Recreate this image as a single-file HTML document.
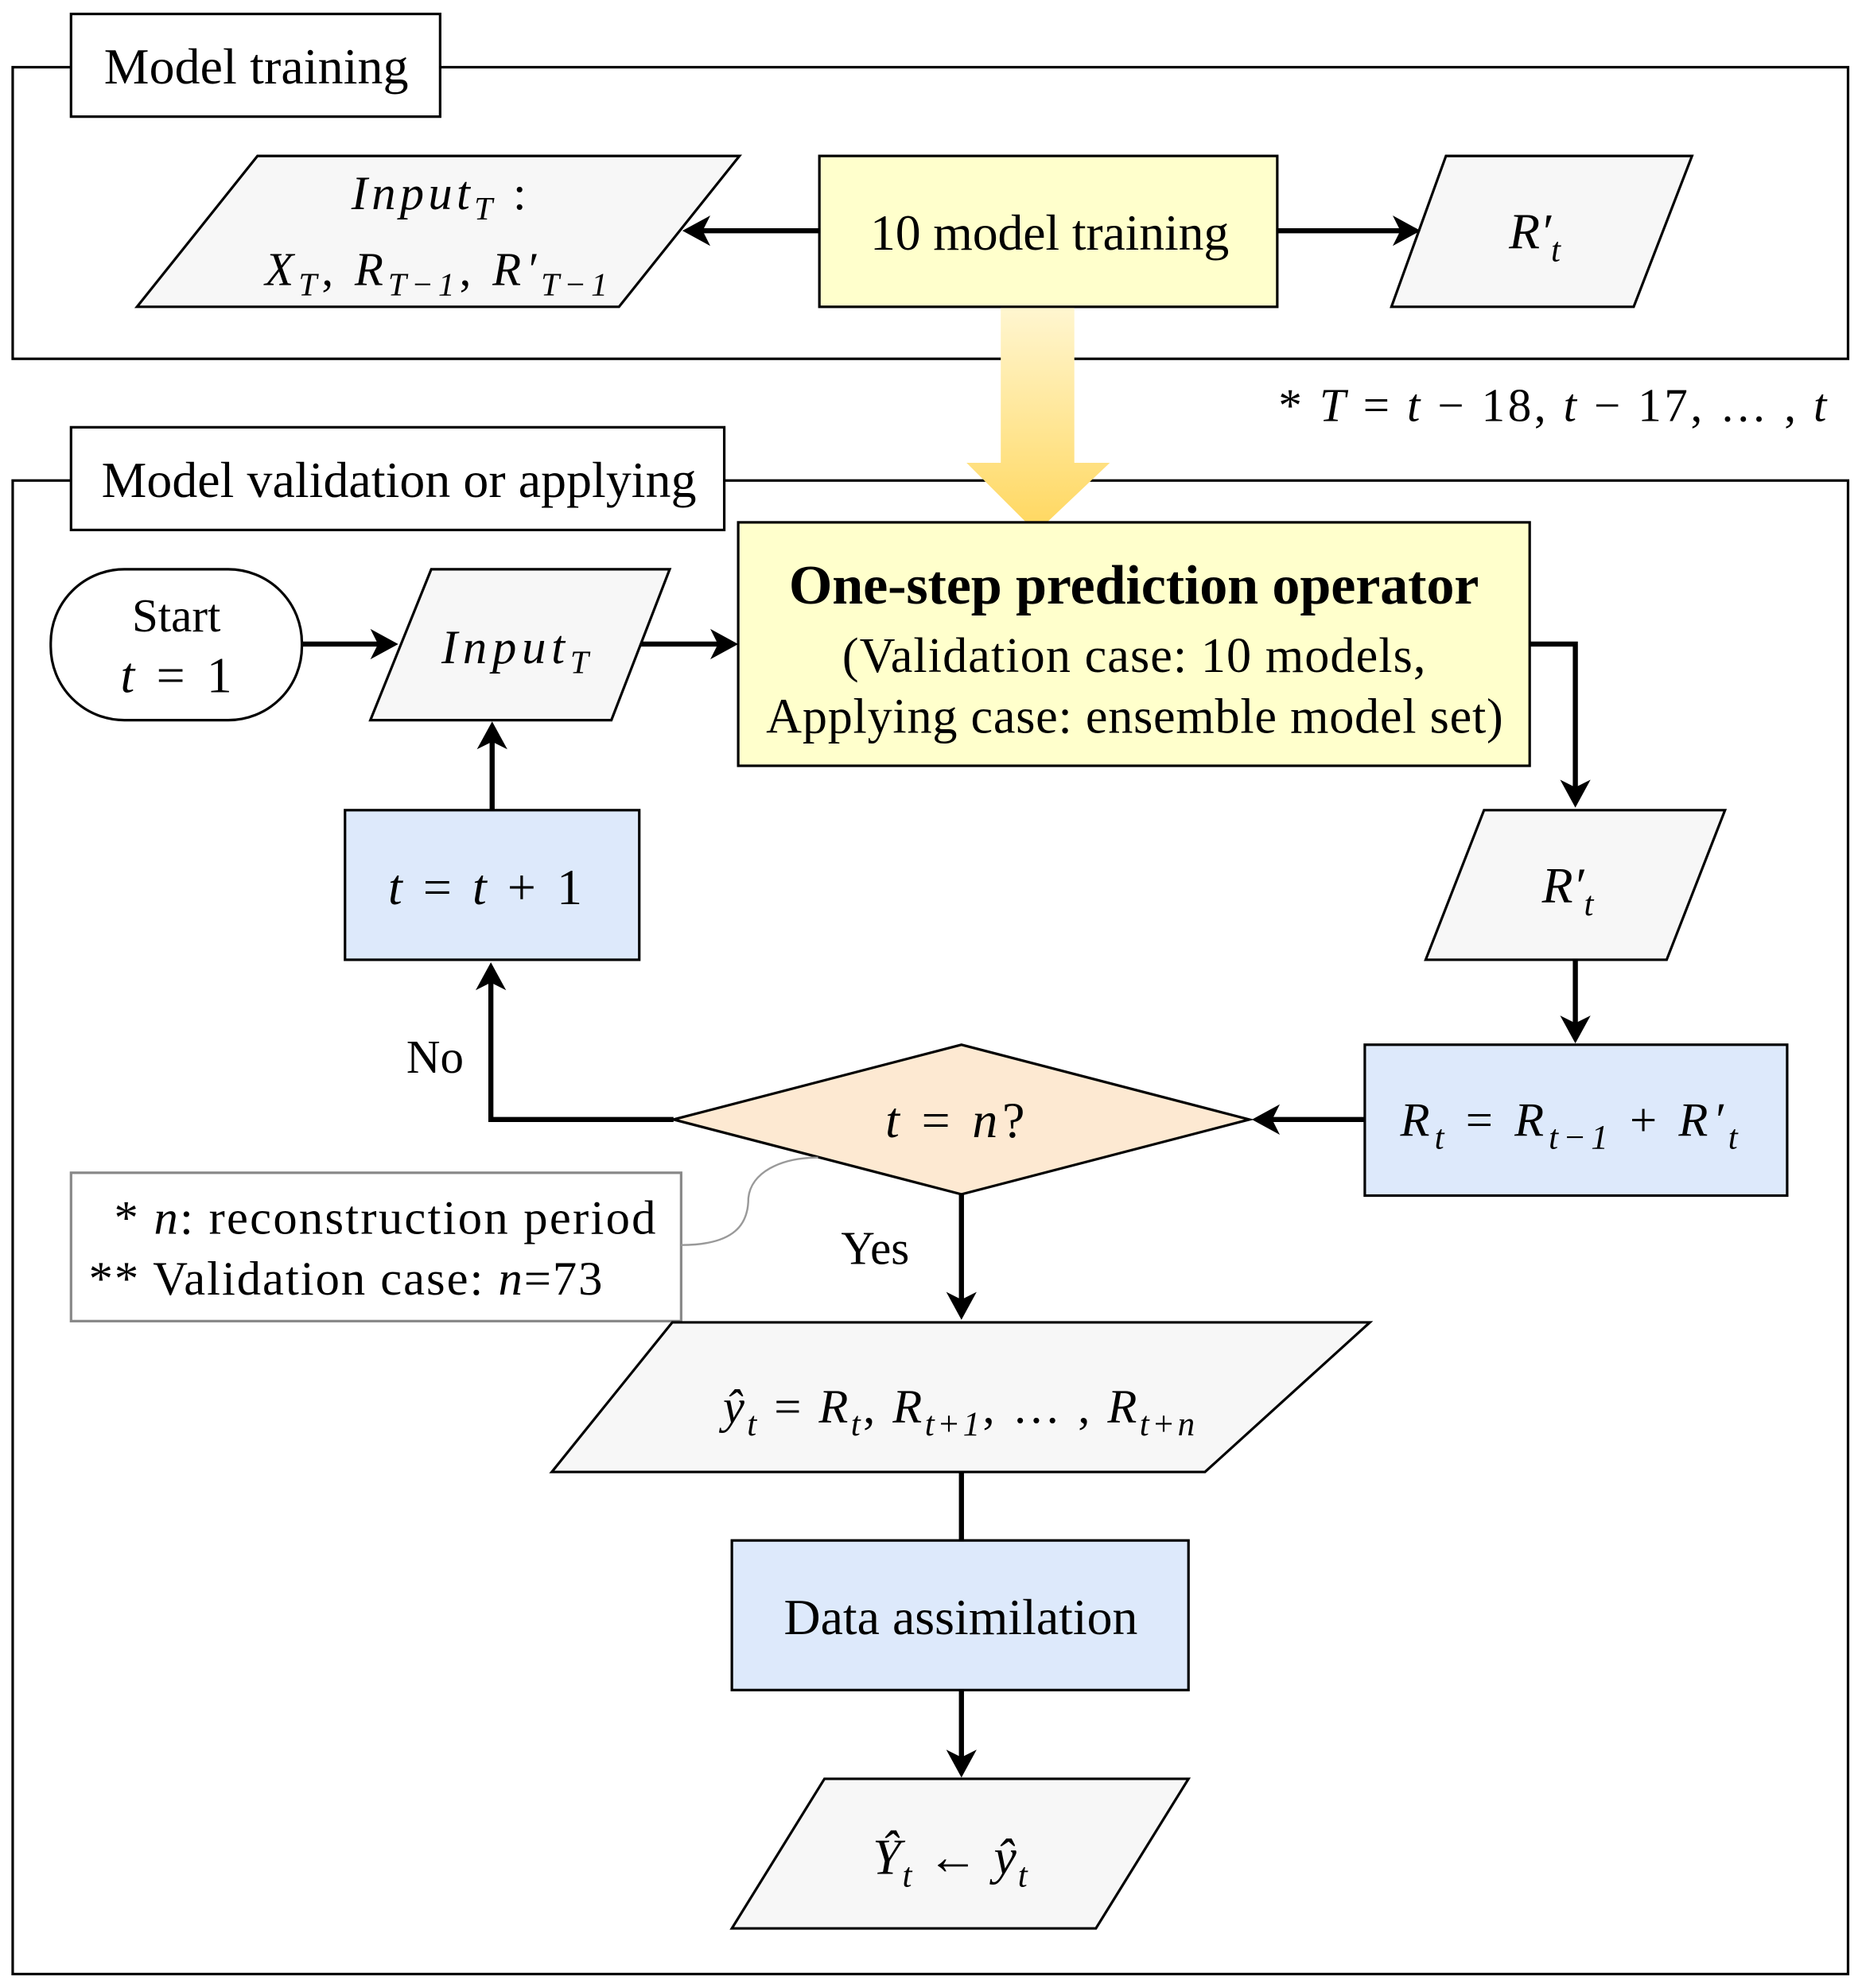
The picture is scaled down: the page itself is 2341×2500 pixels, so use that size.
<!DOCTYPE html>
<html><head><meta charset="utf-8"><style>
html,body{margin:0;padding:0;background:#fff}
svg{display:block}
text{font-family:"Liberation Serif",serif;fill:#000}
.i{font-style:italic}
</style></head><body>
<svg width="2341" height="2500" viewBox="0 0 1468 1568" preserveAspectRatio="none" xmlns="http://www.w3.org/2000/svg">
<defs>
<linearGradient id="g" x1="0" y1="0" x2="0" y2="1">
<stop offset="0" stop-color="#fff6d0"/><stop offset="1" stop-color="#ffd75e"/>
</linearGradient>
</defs>
<g fill="none" stroke="#000" stroke-width="2">
<rect x="10" y="53" width="1447" height="230" fill="#fff"/>
<rect x="10" y="379" width="1447" height="1178" fill="#fff"/>
</g>
<rect x="56" y="11" width="291" height="81" fill="#fff" stroke="#000" stroke-width="2"/>
<text x="82" y="66" font-size="40" textLength="240">Model training</text>
<rect x="56" y="337" width="515" height="81" fill="#fff" stroke="#000" stroke-width="2"/>
<text x="80" y="392" font-size="40" textLength="469">Model validation or applying</text>

<!-- top row -->
<polygon points="108,242 203,123 583,123 488,242" fill="#f7f7f7" stroke="#000" stroke-width="2"/>
<text x="277" y="165" font-size="38" textLength="138"><tspan class="i">Input</tspan><tspan class="i" font-size="26" dy="8">T</tspan><tspan dy="-8"> :</tspan></text>
<text x="209" y="225" font-size="37" textLength="270"><tspan class="i">X</tspan><tspan class="i" font-size="26" dy="8">T</tspan><tspan dy="-8">,  </tspan><tspan class="i">R</tspan><tspan class="i" font-size="26" dy="8">T−1</tspan><tspan dy="-8">,  </tspan><tspan class="i">R′</tspan><tspan class="i" font-size="26" dy="8">T−1</tspan></text>
<rect x="646" y="123" width="361" height="119" fill="#ffffcc" stroke="#000" stroke-width="2"/>
<text x="686" y="197" font-size="40" textLength="283">10 model training</text>
<polygon points="1097,242 1140,123 1334,123 1288,242" fill="#f7f7f7" stroke="#000" stroke-width="2"/>
<text x="1210" y="196" font-size="40" text-anchor="middle"><tspan class="i">R′</tspan><tspan class="i" font-size="27" dy="10">t</tspan></text>

<g stroke="#000" stroke-width="4" fill="none">
<line x1="646" y1="182" x2="550" y2="182"/>
<line x1="1007" y1="182" x2="1108" y2="182"/>
</g>
<g fill="#000">
<polygon points="538,182 560,170 554,182 560,194"/>
<polygon points="1120,182 1098,170 1104,182 1098,194"/>
</g>

<!-- big arrow -->
<polygon points="789,243 847,243 847,365 875,365 817,420 762,365 789,365" fill="url(#g)"/>
<text x="1008" y="332" font-size="37" textLength="432"><tspan>* </tspan><tspan class="i">T</tspan> = <tspan class="i">t</tspan> − 18, <tspan class="i">t</tspan> − 17, … , <tspan class="i">t</tspan></text>

<!-- start -->
<rect x="40" y="449" width="198" height="119" rx="58" ry="58" fill="#fff" stroke="#000" stroke-width="2"/>
<text x="139" y="498" font-size="37" text-anchor="middle">Start</text>
<text x="95" y="546" font-size="40" textLength="88"><tspan class="i">t</tspan> = 1</text>

<polygon points="292,568 340,449 528,449 482,568" fill="#f7f7f7" stroke="#000" stroke-width="2"/>
<text x="348" y="523" font-size="38" textLength="116"><tspan class="i">Input</tspan><tspan class="i" font-size="26" dy="8">T</tspan></text>

<rect x="582" y="412" width="624" height="192" fill="#ffffcc" stroke="#000" stroke-width="2"/>
<text x="622" y="476" font-size="44" font-weight="bold" textLength="544">One-step prediction operator</text>
<text x="664" y="530" font-size="39" textLength="460">(Validation case: 10 models,</text>
<text x="604" y="578" font-size="39" textLength="581">Applying case: ensemble model set)</text>

<polygon points="1124,757 1170,639 1360,639 1314,757" fill="#f7f7f7" stroke="#000" stroke-width="2"/>
<text x="1236" y="712" font-size="40" text-anchor="middle"><tspan class="i">R′</tspan><tspan class="i" font-size="27" dy="10">t</tspan></text>

<rect x="1076" y="824" width="333" height="119" fill="#dde9fb" stroke="#000" stroke-width="2"/>
<text x="1104" y="896" font-size="38" textLength="266"><tspan class="i">R</tspan><tspan class="i" font-size="27" dy="10">t</tspan><tspan dy="-10"> = </tspan><tspan class="i">R</tspan><tspan class="i" font-size="27" dy="10">t−1</tspan><tspan dy="-10"> + </tspan><tspan class="i">R′</tspan><tspan class="i" font-size="27" dy="10">t</tspan></text>

<polygon points="531,883 758,824 985,883 758,942" fill="#fde9d2" stroke="#000" stroke-width="2"/>
<text x="698" y="897" font-size="40" textLength="110"><tspan class="i">t</tspan> = <tspan class="i">n</tspan>?</text>

<rect x="272" y="639" width="232" height="118" fill="#dde9fb" stroke="#000" stroke-width="2"/>
<text x="306" y="713" font-size="40" textLength="153"><tspan class="i">t</tspan> = <tspan class="i">t</tspan> + 1</text>
<text x="343" y="846" font-size="37" text-anchor="middle">No</text>
<text x="690" y="997" font-size="37" text-anchor="middle">Yes</text>

<rect x="56" y="925" width="481" height="117" fill="#fff" stroke="#888" stroke-width="2"/>
<text x="90" y="973" font-size="38" textLength="427">* <tspan class="i">n</tspan>:  reconstruction period</text>
<text x="70" y="1021" font-size="38" textLength="405">** Validation case: <tspan class="i">n</tspan>=73</text>
<path d="M537,982 C580,982 590,965 590,945 C592,925 615,913 645,913" fill="none" stroke="#999" stroke-width="1.5"/>

<polygon points="435,1161 530,1043 1080,1043 950,1161" fill="#f7f7f7" stroke="#000" stroke-width="2"/>
<text x="570" y="1122" font-size="38" textLength="372"><tspan class="i">ŷ</tspan><tspan class="i" font-size="27" dy="10">t</tspan><tspan dy="-10"> = </tspan><tspan class="i">R</tspan><tspan class="i" font-size="27" dy="10">t</tspan><tspan dy="-10">, </tspan><tspan class="i">R</tspan><tspan class="i" font-size="27" dy="10">t+1</tspan><tspan dy="-10">, … , </tspan><tspan class="i">R</tspan><tspan class="i" font-size="27" dy="10">t+n</tspan></text>

<rect x="577" y="1215" width="360" height="118" fill="#dde9fb" stroke="#000" stroke-width="2"/>
<text x="618" y="1289" font-size="40" textLength="279">Data assimilation</text>

<polygon points="577,1521 650,1403 937,1403 864,1521" fill="#f7f7f7" stroke="#000" stroke-width="2"/>
<text x="688" y="1478" font-size="40" textLength="122"><tspan class="i">Ŷ</tspan><tspan class="i" font-size="27" dy="10">t</tspan><tspan dy="-10"> ← </tspan><tspan class="i">ŷ</tspan><tspan class="i" font-size="27" dy="10">t</tspan></text>

<!-- connectors -->
<g stroke="#000" stroke-width="4" fill="none">
<line x1="238" y1="508" x2="302" y2="508"/>
<line x1="505" y1="508" x2="570" y2="508"/>
<polyline points="1206,508 1242,508 1242,624"/>
<line x1="1242" y1="757" x2="1242" y2="810"/>
<line x1="1076" y1="883" x2="1000" y2="883"/>
<polyline points="531,883 387,883 387,772"/>
<line x1="388" y1="639" x2="388" y2="582"/>
<line x1="758" y1="942" x2="758" y2="1028"/>
<line x1="758" y1="1161" x2="758" y2="1215"/>
<line x1="758" y1="1333" x2="758" y2="1390"/>
</g>
<g fill="#000">
<polygon points="314,508 292,496 298,508 292,520"/>
<polygon points="582,508 560,496 566,508 560,520"/>
<polygon points="1242,637 1230,615 1242,621 1254,615"/>
<polygon points="1242,823 1230,801 1242,807 1254,801"/>
<polygon points="987,883 1009,871 1003,883 1009,895"/>
<polygon points="387,759 375,781 387,775 399,781"/>
<polygon points="388,569 376,591 388,585 400,591"/>
<polygon points="758,1041 746,1019 758,1025 770,1019"/>
<polygon points="758,1402 746,1380 758,1386 770,1380"/>
</g>
</svg>
</body></html>
